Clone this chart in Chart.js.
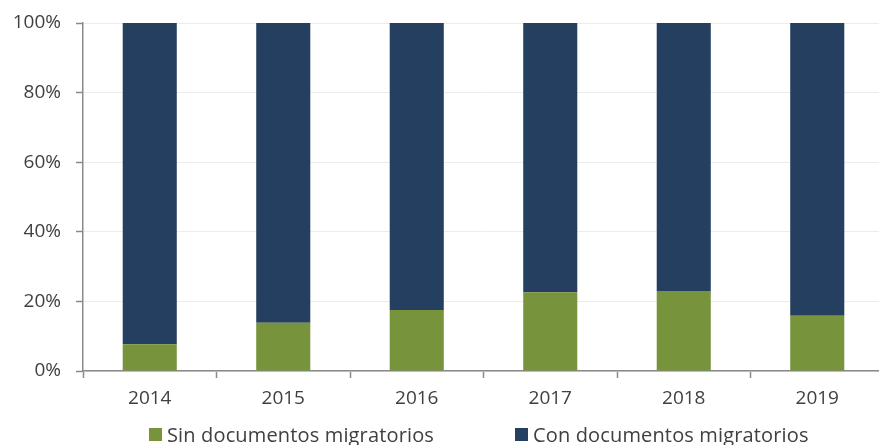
<!DOCTYPE html>
<html>
<head>
<meta charset="utf-8">
<script src="https://cdn.jsdelivr.net/npm/chart.js@4"></script>
<style>
  html, body { margin: 0; padding: 0; background: #fff; }
  #wrap { position: relative; width: 879px; height: 445px; overflow: hidden; }
  #chart { position: absolute; left: 0; top: 0; }
  #legend { position: absolute; left: 0; top: 424px; width: 879px; height: 20px; }
  .leg-item { position: absolute; top: 0; display: flex; align-items: center; height: 20px;
              font: 20px 'Open Sans', 'Liberation Sans', sans-serif; letter-spacing: 0.15px;
              color: #404040; white-space: nowrap; }
  .leg-box { width: 13px; height: 13px; margin-right: 5px; margin-top: 1px; }
</style>
</head>
<body>
<div id="wrap">
  <!-- canvas a few px wider than the frame: the source plot runs slightly past its right edge -->
  <canvas id="chart" width="884" height="445"></canvas>
  <div id="legend"></div>
</div>
<script>
// share of total (%)
const years = ['2014', '2015', '2016', '2017', '2018', '2019'];
const sinDocs = [7.7, 13.9, 17.5, 22.6, 23.0, 15.9];
const conDocs = sinDocs.map(v => 100 - v);
const yTicks = [0, 20, 40, 60, 80, 100];
const seriesNames = ['Sin documentos migratorios', 'Con documentos migratorios'];

const GREEN = '#77933c';
const NAVY = '#253f60';
const TXT = '#404040';
const AXIS = '#8a8a8a';

Chart.defaults.font.family = "'Open Sans', 'Liberation Sans', sans-serif";
Chart.defaults.color = TXT;

const chart = new Chart(document.getElementById('chart'), {
    type: 'bar',
    data: {
        labels: years,
        datasets: [
            { label: seriesNames[0], data: sinDocs, backgroundColor: GREEN, barPercentage: 0.405, categoryPercentage: 1 },
            { label: seriesNames[1], data: conDocs, backgroundColor: NAVY, barPercentage: 0.405, categoryPercentage: 1 }
        ]
    },
    options: {
        responsive: false,
        animation: false,
        layout: { padding: { top: 23, right: 0, left: 0, bottom: 34 } },
        plugins: {
            tooltip: { enabled: false },
            legend: { display: false }
        },
        scales: {
            x: {
                stacked: true,
                grid: { drawOnChartArea: false, tickLength: 7, tickColor: AXIS, tickWidth: 1.5, offset: true },
                border: { color: AXIS, width: 1.5 },
                ticks: { font: { size: 19 }, color: TXT, padding: 9 },
                afterFit: s => { s.height = 40; s.paddingLeft = 0; s.paddingRight = 0; }
            },
            y: {
                stacked: true,
                min: 0, max: 100,
                afterBuildTicks: s => { s.ticks = yTicks.map(v => ({ value: v })); },
                grid: { color: '#ececec', tickLength: 7, tickColor: AXIS, tickWidth: 1.5 },
                border: { color: AXIS, width: 1.5 },
                ticks: { font: { size: 19 }, color: TXT, padding: 15, callback: v => v + '%' },
                afterFit: s => { s.width = 83; s.paddingTop = 0; s.paddingBottom = 0; }
            }
        }
    }
});

// legend below the plot, built from the datasets
const legendLeft = [149, 515];
const legend = document.getElementById('legend');
chart.data.datasets.forEach((ds, i) => {
    const item = document.createElement('div');
    item.className = 'leg-item';
    item.style.left = legendLeft[i] + 'px';
    item.innerHTML = `<span class="leg-box" style="background:${ds.backgroundColor}"></span><span>${ds.label}</span>`;
    legend.appendChild(item);
});
</script>
</body>
</html>
